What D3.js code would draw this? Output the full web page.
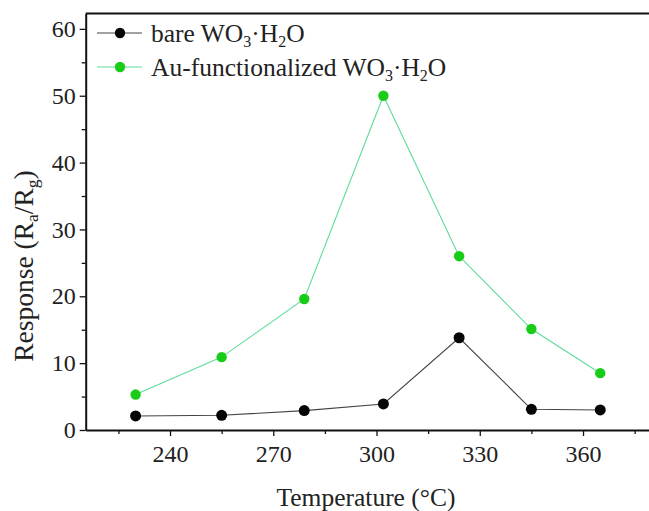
<!DOCTYPE html>
<html>
<head>
<meta charset="utf-8">
<script src="https://cdn.jsdelivr.net/npm/d3@7"></script>
<style>
  html, body { margin: 0; padding: 0; background: #fff; }
  svg { display: block; }
  text { font-family: "Liberation Serif", "Times New Roman", serif; fill: #222; }
</style>
</head>
<body>
<svg id="chart" width="649" height="511"></svg>
<script>
// Operating temperature (°C)
const temps = [230, 255, 279, 302, 324, 345, 365];
// Gas response Ra/Rg
const bareResp = [2.1, 2.2, 2.9, 3.9, 13.8, 3.1, 3.0];
const auResp = [5.3, 10.9, 19.6, 50.0, 26.0, 15.1, 8.5];

const xMajor = [240, 270, 300, 330, 360];
const xMinor = [225, 255, 285, 315, 345, 375];
const yMajor = [0, 10, 20, 30, 40, 50, 60];
const yMinor = [5, 15, 25, 35, 45, 55];

const svg = d3.select("#chart");
const plotLeft = 85.7, plotTop = 13.5, plotBottom = 430;

const x = d3.scaleLinear().domain([215.5, 380]).range([plotLeft, plotLeft + 164.5 * 3.4417]);
const y = d3.scaleLinear().domain([0, 62.3]).range([plotBottom, plotTop]);

// frame
svg.append("line").attr("x1", plotLeft).attr("x2", x(380)).attr("y1", plotTop).attr("y2", plotTop)
  .attr("stroke", "#111").attr("stroke-width", 2);

// x axis
const gx = svg.append("g").attr("transform", `translate(0,${plotBottom})`);
gx.call(d3.axisBottom(x).tickValues(xMajor).tickSize(6).tickSizeOuter(0).tickPadding(9));
const gxm = svg.append("g").attr("transform", `translate(0,${plotBottom})`);
gxm.call(d3.axisBottom(x).tickValues(xMinor).tickSize(4).tickSizeOuter(0).tickFormat(""));
gxm.select(".domain").remove();

// y axis
const gy = svg.append("g").attr("transform", `translate(${plotLeft},0)`);
gy.call(d3.axisLeft(y).tickValues(yMajor).tickSize(6).tickSizeOuter(0).tickPadding(4));
const gym = svg.append("g").attr("transform", `translate(${plotLeft},0)`);
gym.call(d3.axisLeft(y).tickValues(yMinor).tickSize(4).tickSizeOuter(0).tickFormat(""));
gym.select(".domain").remove();

svg.selectAll(".domain").attr("stroke", "#111").attr("stroke-width", 2);
svg.selectAll(".tick line").attr("stroke", "#111").attr("stroke-width", 1.3);
svg.selectAll(".tick text")
  .attr("font-family", "Liberation Serif, serif")
  .attr("font-size", 24).attr("fill", "#222");

// series
const series = [
  { name: "bare", values: bareResp, line: "#444", dot: "#050505", r: 5.5 },
  { name: "au", values: auResp, line: "#5fdc9a", dot: "#18cc18", r: 5.2 }
];
const lineGen = d3.line().x(d => x(d[0])).y(d => y(d[1]));
series.forEach(s => {
  const pts = temps.map((t, i) => [t, s.values[i]]);
  svg.append("path").datum(pts).attr("d", lineGen)
    .attr("fill", "none").attr("stroke", s.line).attr("stroke-width", 1.1);
  svg.append("g").selectAll("circle").data(pts).join("circle")
    .attr("cx", d => x(d[0])).attr("cy", d => y(d[1])).attr("r", s.r)
    .attr("fill", s.dot);
});

// legend
const legend = [
  { prefix: "bare ", line: "#444", dot: "#050505", cy: 33 },
  { prefix: "Au-functionalized ", line: "#5fdc9a", dot: "#18cc18", cy: 67 }
];
legend.forEach(l => {
  svg.append("line").attr("x1", 97).attr("x2", 142).attr("y1", l.cy).attr("y2", l.cy)
    .attr("stroke", l.line).attr("stroke-width", 1.1);
  svg.append("circle").attr("cx", 120).attr("cy", l.cy).attr("r", 5.2).attr("fill", l.dot);
  const t = svg.append("text").attr("x", 151).attr("y", l.cy + 9).attr("font-size", 25.5);
  t.append("tspan").text(l.prefix + "WO");
  t.append("tspan").attr("font-size", 16).attr("dy", 5).text("3");
  t.append("tspan").attr("dy", -5).text("·H");
  t.append("tspan").attr("font-size", 16).attr("dy", 5).text("2");
  t.append("tspan").attr("dy", -5).text("O");
});

// axis titles
svg.append("text").attr("x", 366).attr("y", 506).attr("text-anchor", "middle")
  .attr("font-size", 25.5).text("Temperature (°C)");

const yt = svg.append("text").attr("transform", "translate(33,266) rotate(-90)")
  .attr("text-anchor", "middle").attr("font-size", 27.5);
yt.append("tspan").text("Response (R");
yt.append("tspan").attr("font-size", 17.5).attr("dy", 5).text("a");
yt.append("tspan").attr("dy", -5).text("/R");
yt.append("tspan").attr("font-size", 17.5).attr("dy", 5).text("g");
yt.append("tspan").attr("dy", -5).text(")");
</script>
</body>
</html>
